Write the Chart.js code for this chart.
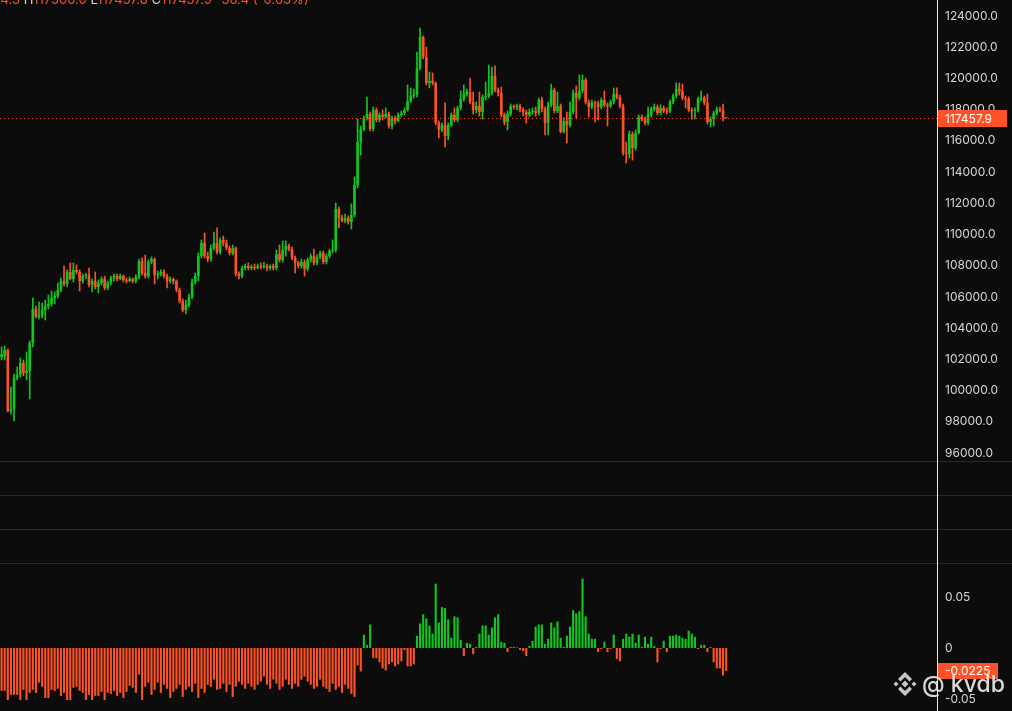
<!DOCTYPE html>
<html>
<head>
<meta charset="utf-8">
<script src="https://cdn.jsdelivr.net/npm/chart.js@4.4.1/dist/chart.umd.min.js"></script>
<style>
  body { margin: 0; background: #0c0c0c; }
  #wrap { position: relative; width: 1012px; height: 711px; overflow: hidden; background: #0c0c0c; font-family: Inter, sans-serif; }
  #main { position: absolute; left: 0; top: 0; }
  #hist { position: absolute; left: 0; top: 563px; }
  .sep { position: absolute; left: 0; width: 1012px; height: 1px; background: #2a2a2a; }
  #axisLine { position: absolute; left: 937px; top: 0; width: 1px; height: 711px; background: #e8e8e8; }
  #legend { position: absolute; left: -43px; top: -9px; font-size: 13px; line-height: 16px; white-space: nowrap; color: #fd5228; }
  #legend .k { color: #d6d6d6; }
  #mark { position: absolute; left: 892px; top: 670px; height: 28px; display: flex; align-items: center; white-space: nowrap; color: rgba(236,236,236,0.92); font-size: 23px; font-weight: 500; line-height: 28px; }
  #mark svg { margin-right: 4px; flex: none; }
</style>
</head>
<body>
<div id="wrap">
  <canvas id="main" width="1012" height="461"></canvas>
  <canvas id="hist" width="1012" height="148"></canvas>
  <div class="sep" style="top:461px"></div>
  <div class="sep" style="top:495px"></div>
  <div class="sep" style="top:529px"></div>
  <div class="sep" style="top:563px"></div>
  <div id="axisLine"></div>
  <div id="legend"></div>
  <div id="mark">
    <svg width="26" height="26" viewBox="0 0 26 26">
      <g fill="rgba(220,220,220,0.9)">
        <polygon points="13,9.5 16.5,13 13,16.5 9.5,13"/>
        <polygon points="4,10.5 6.5,13 4,15.5 1.5,13"/>
        <polygon points="22,10.5 24.5,13 22,15.5 19.5,13"/>
        <polygon points="13,1 20,8 17.5,10.5 13,6 8.5,10.5 6,8"/>
        <polygon points="13,25 20,18 17.5,15.5 13,20 8.5,15.5 6,18"/>
      </g>
    </svg>
    <span>@ kvdb</span>
  </div>
</div>
<script>
const GREEN = '#12c522';
const RED = '#fd5228';
const TICK = '#d6d6d6';

const opens = [
  102150,102220,102600,98690,98820,100810,101000,101770,101130,101260,
  103050,105230,104720,104840,105160,105420,105550,105930,106060,106450,
  107020,106830,107600,107150,107730,107600,107020,107340,107410,106770,
  107020,106640,106890,107150,106570,106890,107210,107340,107150,107340,
  107090,107020,107150,107020,107280,108300,107530,107340,108240,108430,
  107410,107470,107600,107340,107020,107150,107020,106450,105740,105160,
  105480,106000,106960,107340,108620,109460,108620,108430,109140,109460,
  108880,109650,109460,109140,108820,109140,107470,107340,107850,107980,
  107850,107920,107850,107980,107920,107980,107850,107980,107850,108750,
  108370,109010,109260,109070,108500,108180,107980,108240,107790,108370,
  108620,108180,108560,108820,108240,108620,108940,109010,111630,111060,
  110870,111060,110800,111250,113170,115930,116760,117470,117720,116760,
  117980,117340,117660,117530,117720,116950,117470,117270,117660,117790,
  117980,118550,118870,118940,120670,122650,121370,119710,119840,119710,
  117140,116700,117020,116310,117020,117660,117340,118110,118680,119000,
  119130,118490,117980,118230,117850,118810,118870,119070,120160,119260,
  119070,117660,117210,117720,118230,118170,118230,117980,117850,117660,
  117850,117910,117790,118620,118040,117140,118300,119260,117910,118230,
  116570,117270,117020,117850,119070,118750,119200,119900,118490,118170,
  118430,118400,118170,118620,118300,118230,118490,119000,118810,118230,
  115220,115160,116440,115540,116500,117530,117400,117140,117660,118040,
  118170,117790,118110,117910,117880,118490,118870,119320,119200,118750,
  118680,117980,117910,117980,118680,118750,118430,117210,117400,117790,
  118040,117980,117494.3
];
const highs = [
  102790,102860,102670,100230,101060,101510,102090,101960,102470,103180,
  105930,105420,105680,105610,105800,106120,106380,106320,106890,107210,
  107980,107730,108180,108180,108050,107730,107470,107530,107850,107150,
  107600,107090,107280,107340,107020,107340,107470,107470,107470,107410,
  107210,107280,107210,107410,108430,108500,108690,108370,108560,108500,
  107660,107730,107730,107470,107280,107210,107090,106570,105870,105800,
  106190,107150,107530,108820,109650,110100,108880,109330,110160,110420,
  109780,109900,109650,109260,109330,109200,107600,107980,108110,108180,
  108050,108110,108110,108180,108240,108110,108050,108110,109010,109330,
  109580,109580,109390,109200,108620,108300,108430,108370,108500,108750,
  109070,108690,108940,108940,108750,109070,109650,112020,111760,111250,
  111310,111190,111960,113690,117400,116950,117590,118810,117850,118170,
  118110,117790,117980,118110,117850,117590,117590,117790,117910,118110,
  119580,119390,119320,121690,123230,122720,122010,120410,120350,119770,
  117270,117140,118430,117140,117790,118110,118230,119200,119580,119320,
  120030,119130,118490,119130,118940,119770,120860,120730,120800,119390,
  119450,117790,117910,118360,118300,118360,118360,118110,117980,118040,
  118110,118170,118750,118810,118170,118490,119640,119390,119130,118360,
  117470,117850,118490,119260,119520,120220,120220,120030,118620,118620,
  118550,118550,118750,119200,118430,118620,119390,119390,118940,118360,
  115930,116630,116570,116700,117660,117660,117530,118170,118170,118360,
  118300,118300,118230,118110,118620,119000,119710,119710,119640,118870,
  118810,118110,118110,118810,119200,118870,119000,117530,117910,118170,
  118170,118360,117500.0
];
const lows = [
  101960,101960,98630,98500,98050,100680,100870,100940,100680,99460,
  102790,104650,104590,104650,104520,105230,105420,105550,105930,106320,
  106700,106640,107090,106960,107470,106380,106890,107150,106640,106320,
  106510,106250,106770,106450,106450,106770,107020,107020,107090,106960,
  106890,106960,106890,106890,107150,107410,107210,107210,108110,106830,
  107150,107340,107210,106570,106890,106830,106320,105610,105040,104910,
  105360,105870,106830,107020,108500,108500,108240,108300,109010,108750,
  108750,109260,109010,108690,108690,107340,107150,107210,107730,107730,
  107730,107730,107790,107790,107850,107660,107730,107730,107730,108240,
  108240,108620,108940,108370,107530,107850,107850,107340,107660,108240,
  108050,108050,108430,108110,108110,108500,108820,108880,110420,110800,
  110740,110670,110350,111120,112980,115090,116630,117340,116630,116630,
  117210,117210,117340,117470,116820,116760,117080,117210,117530,117660,
  117910,118430,118750,118810,120540,121250,119580,119390,119580,117020,
  116180,116570,115610,116060,116890,117210,117210,117980,118550,118870,
  118360,117720,117790,117590,117400,118620,118750,118940,119130,118870,
  117530,117020,116700,117590,118040,117980,117850,117590,117140,117530,
  117720,117590,117660,117850,116380,116380,118170,117790,117790,116500,
  116500,115860,116890,117720,117470,118620,119070,118360,117530,118040,
  117210,117340,118040,118170,116950,118110,118360,118680,118110,115090,
  114580,114900,114770,115410,116440,117270,117020,117020,117530,117910,
  117660,117660,117790,117720,117790,118360,118750,118940,118620,118110,
  117850,117400,117400,117850,118550,118300,117080,116890,116950,117660,
  117850,117270,117457.8
];
const closes = [
  102340,102600,98690,98820,100810,101000,101770,101130,101260,103050,
  105230,104720,104840,105160,105420,105550,105930,106060,106450,107020,
  106830,107600,107150,107730,107600,107020,107340,107410,106770,107020,
  106640,106890,107150,106570,106890,107210,107340,107150,107340,107090,
  107020,107150,107020,107280,108300,107530,107340,108240,108430,107410,
  107470,107600,107340,107020,107150,107020,106450,105740,105160,105480,
  106000,106960,107340,108620,109460,108620,108430,109140,109460,108880,
  109650,109460,109140,108820,109140,107470,107340,107850,107980,107850,
  107920,107850,107980,107920,107980,107850,107980,107850,108750,108370,
  109010,109260,109070,108500,108180,107980,108240,107790,108370,108620,
  108180,108560,108820,108240,108620,108940,109010,111630,111060,110870,
  111060,110800,111250,113170,115930,116760,117470,117720,116760,117980,
  117340,117660,117530,117720,116950,117470,117270,117660,117790,117980,
  118550,118870,118940,120670,122650,121370,119710,119840,119710,117140,
  116700,117020,116310,117020,117660,117340,118110,118680,119000,119130,
  118490,117980,118230,117850,118810,118870,119070,120160,119260,119070,
  117660,117210,117720,118230,118170,118230,117980,117850,117660,117850,
  117910,117790,118620,118040,117140,118300,119260,117910,118230,116570,
  117270,117020,117850,119070,118750,119200,119900,118490,118170,118430,
  118400,118170,118620,118300,118230,118490,119000,118810,118230,115220,
  115160,116440,115540,116500,117530,117400,117140,117660,118040,118170,
  117790,118110,117910,117880,118490,118870,119320,119200,118750,118680,
  117980,117910,117980,118680,118750,118430,117210,117400,117790,118040,
  117980,117494.3,117457.9
];
const histValues = [
  -0.042,-0.042,-0.051,-0.046,-0.046,-0.046,-0.051,-0.041,-0.051,-0.044,
  -0.041,-0.044,-0.034,-0.038,-0.049,-0.049,-0.041,-0.042,-0.040,-0.047,
  -0.044,-0.051,-0.051,-0.039,-0.038,-0.042,-0.044,-0.051,-0.046,-0.051,
  -0.047,-0.047,-0.043,-0.051,-0.044,-0.045,-0.042,-0.047,-0.044,-0.049,
  -0.043,-0.037,-0.039,-0.044,-0.026,-0.051,-0.038,-0.034,-0.046,-0.041,
  -0.034,-0.044,-0.036,-0.040,-0.049,-0.043,
  -0.040,-0.036,-0.048,-0.041,-0.038,-0.043,-0.035,-0.049,-0.040,-0.044,
  -0.036,-0.038,-0.031,-0.041,-0.040,-0.035,-0.043,-0.036,-0.048,-0.038,
  -0.033,-0.036,-0.040,-0.035,-0.038,-0.041,-0.036,-0.033,-0.028,-0.036,
  -0.040,-0.031,-0.035,-0.041,-0.038,-0.031,-0.036,-0.040,-0.035,-0.038,
  -0.031,-0.028,-0.033,-0.036,-0.040,-0.038,-0.031,-0.038,-0.040,-0.043,
  -0.035,-0.041,-0.038,-0.044,
  -0.036,-0.040,-0.045,-0.048,-0.017,-0.023,0.013,0.003,0.023,-0.010,
  -0.010,-0.014,-0.020,-0.022,-0.016,-0.014,-0.018,-0.016,-0.013,-0.002,
  -0.018,-0.018,-0.016,0.012,0.024,0.033,0.029,0.022,0.014,0.063,
  0.025,0.040,0.039,0.028,0.010,0.031,0.030,0.008,-0.008,0.005,
  0.004,-0.006,0.001,0.014,0.022,0.022,0.013,0.020,0.030,0.033,
  0.006,0.005,-0.004,0.001,0.001,0.0005,-0.002,-0.003,-0.008,0.002,
  0.007,0.021,0.023,0.023,
  0.004,0.009,0.025,0.020,0.026,0.010,0.001,0.012,0.021,0.037,
  0.034,0.036,0.068,0.031,0.014,0.009,0.009,-0.004,-0.001,0.006,
  -0.004,-0.001,0.013,-0.011,-0.013,0.009,0.014,0.011,0.014,0.005,
  0.013,0.001,0.011,0.004,0.011,0.002,-0.014,-0.001,0.007,-0.004,
  0.012,0.012,0.013,0.012,0.010,0.009,0.017,0.014,0.011,-0.001,
  0.003,0.003,-0.004,0.001,-0.014,-0.020,-0.020,-0.027,-0.0225
];

const priceTicks = [96000,98000,100000,102000,104000,106000,108000,110000,112000,114000,116000,118000,120000,122000,124000];
const histTicks = [-0.05, 0, 0.05];
const histTickLabels = ['-0.05', '0', '0.05'];

// visible window: the candles plus empty space on the right
const totalSlots = 300;
const slots = Array.from({ length: totalSlots }, (_, i) => i);
const priceMin = 95487, priceMax = 125025;
const histMin = -0.0618, histMax = 0.0833;

Chart.defaults.font.family = 'Inter, sans-serif';
Chart.defaults.animation = false;

const candleColors = closes.map((c, i) => c >= opens[i] ? GREEN : RED);
const histColors = histValues.map(v => v >= 0 ? GREEN : RED);

const n = closes.length;
const last = n - 1;
const chg = closes[last] - opens[last];
document.getElementById('legend').innerHTML =
  '<span class="k">O</span>' + opens[last].toFixed(1) +
  ' <span class="k">H</span>' + highs[last].toFixed(1) +
  ' <span class="k">L</span>' + lows[last].toFixed(1) +
  ' <span class="k">C</span>' + closes[last].toFixed(1) +
  ' ' + chg.toFixed(1) + ' (' + (chg / opens[last] * 100).toFixed(2) + '%)';

function rightAxis(ticks, labelFn, min, max) {
  return {
    position: 'right', min: min, max: max,
    grid: { display: false, drawTicks: false },
    border: { display: false },
    afterBuildTicks: s => { s.ticks = ticks.map(v => ({ value: v })); },
    afterFit: s => { s.width = 75; s.paddingTop = 0; s.paddingBottom = 0; },
    ticks: { color: TICK, font: { size: 12 }, padding: 8, callback: labelFn }
  };
}

// dotted last-price line plus the value tag on the axis
const priceTag = {
  id: 'priceTag',
  afterDatasetsDraw(chart) {
    const { ctx, chartArea, scales } = chart;
    const v = closes[last];
    const py = Math.round(scales.y.getPixelForValue(v)) + 0.5;
    ctx.save();
    ctx.strokeStyle = RED;
    ctx.lineWidth = 1;
    ctx.setLineDash([1, 3]);
    ctx.beginPath();
    ctx.moveTo(chartArea.left, py);
    ctx.lineTo(chartArea.right, py);
    ctx.stroke();
    ctx.setLineDash([]);
    ctx.fillStyle = RED;
    ctx.fillRect(chartArea.right, py - 8.5, 70, 17);
    ctx.fillStyle = '#ffffff';
    ctx.font = '12px Inter, sans-serif';
    ctx.textBaseline = 'middle';
    ctx.fillText(v.toFixed(1), chartArea.right + 8, py + 0.5);
    ctx.restore();
  }
};

const histTag = {
  id: 'histTag',
  afterDatasetsDraw(chart) {
    const { ctx, chartArea, scales } = chart;
    const v = histValues[histValues.length - 1];
    const py = Math.round(scales.y.getPixelForValue(v));
    ctx.save();
    ctx.fillStyle = RED;
    ctx.fillRect(chartArea.right, py - 8, 61, 16);
    ctx.fillStyle = '#ffffff';
    ctx.font = '12px Inter, sans-serif';
    ctx.textBaseline = 'middle';
    ctx.fillText(v.toFixed(4), chartArea.right + 8, py + 0.5);
    ctx.restore();
  }
};

new Chart(document.getElementById('main'), {
  type: 'bar',
  data: {
    labels: slots,
    datasets: [
      {
        data: lows.map((l, i) => [l, highs[i]]),
        backgroundColor: candleColors,
        barThickness: 1,
        grouped: false,
        order: 2
      },
      {
        data: opens.map((o, i) => [o, closes[i]]),
        backgroundColor: candleColors,
        barPercentage: 0.85,
        categoryPercentage: 1,
        minBarLength: 1,
        grouped: false,
        order: 1
      }
    ]
  },
  options: {
    responsive: false,
    devicePixelRatio: 1,
    layout: { padding: 0 },
    scales: {
      x: { display: false },
      y: rightAxis(priceTicks, v => v.toFixed(1), priceMin, priceMax)
    },
    plugins: { legend: { display: false }, tooltip: { enabled: false } }
  },
  plugins: [priceTag]
});

new Chart(document.getElementById('hist'), {
  type: 'bar',
  data: {
    labels: slots,
    datasets: [{
      data: histValues,
      backgroundColor: histColors,
      barPercentage: 0.68,
      categoryPercentage: 1
    }]
  },
  options: {
    responsive: false,
    devicePixelRatio: 1,
    layout: { padding: 0 },
    scales: {
      x: { display: false },
      y: rightAxis(histTicks, (v, i) => histTickLabels[i], histMin, histMax)
    },
    plugins: { legend: { display: false }, tooltip: { enabled: false } }
  },
  plugins: [histTag]
});
</script>
</body>
</html>
